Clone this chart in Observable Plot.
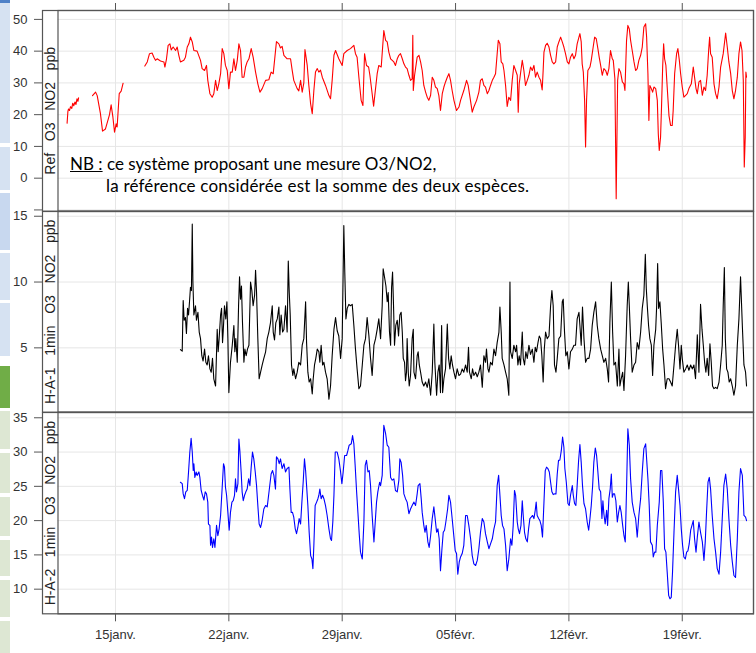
<!DOCTYPE html>
<html><head><meta charset="utf-8">
<script src="https://cdn.jsdelivr.net/npm/d3@7"></script>
<script src="https://cdn.jsdelivr.net/npm/@observablehq/plot@0.6"></script>
<style>
body{margin:0;background:#fff;}
#chart{position:relative;width:756px;height:653px;overflow:hidden;font-family:"Liberation Sans",Arial,sans-serif;}
.side{position:absolute;left:0;width:10px;}
.nb{position:absolute;font-family:Lato,sans-serif;font-size:17px;line-height:22px;color:#000;white-space:nowrap;}
</style></head><body><div id="chart">
<div class="side" style="top:0;height:3px;background:#4f81c7"></div>
<div class="side" style="top:3px;height:140px;background:#d6e2f2"></div>
<div class="side" style="top:147px;height:43px;background:#d6e2f2"></div>
<div class="side" style="top:193px;height:57px;background:#c8d8ef"></div>
<div class="side" style="top:253px;height:47px;background:#d6e2f2"></div>
<div class="side" style="top:303px;height:53px;background:#d6e2f2"></div>
<div class="side" style="top:366px;height:42px;background:#70ad47"></div>
<div class="side" style="top:411px;height:38px;background:#dde7d3"></div>
<div class="side" style="top:453px;height:40px;background:#dde7d3"></div>
<div class="side" style="top:497px;height:39px;background:#dde7d3"></div>
<div class="side" style="top:540px;height:36px;background:#dde7d3"></div>
<div class="side" style="top:580px;height:37px;background:#dde7d3"></div>
<div class="side" style="top:621px;height:32px;background:#dde7d3"></div>
</div>
<script>
// Days are counted from 1 January 2018 (day 32 = 1 February).
const weekTicks = [15, 22, 29, 36, 43, 50];
const weekLabels = ["15janv.", "22janv.", "29janv.", "05févr.", "12févr.", "19févr."];
const xStartDay = 11.449, xEndDay = 54.40;

const refTicks = [-10, 0, 10, 20, 30, 40, 50];
const ha1Ticks = [5, 10, 15];
const ha2Ticks = [10, 15, 20, 25, 30, 35];

const refLabel = "Ref   O3   NO2   ppb";
const ha1Label = "H-A-1   1min   O3   NO2   ppb";
const ha2Label = "H-A-2   1min   O3   NO2   ppb";

// Ref O3+NO2 (ppb); null = gap in the record
const refSeries = [
[12.01,17.3],[12.06,21.0],[12.10,21.8],[12.16,21.3],[12.22,22.5],[12.30,22.0],[12.36,23.6],[12.42,22.8],[12.50,24.0],[12.56,23.2],[12.62,25.0],[12.68,24.2],[12.72,25.3],[12.73,null],
[13.58,26.0],[13.77,27.1],[13.87,26.0],[14.07,20.3],[14.20,14.8],[14.38,15.5],[14.53,18.2],[14.63,20.0],[14.73,23.1],[14.84,19.2],[14.94,14.5],[15.04,17.1],[15.10,16.1],[15.23,26.6],[15.35,27.4],[15.47,29.9],[15.48,null],
[16.81,35.3],[16.96,36.6],[17.10,39.2],[17.26,39.4],[17.37,38.1],[17.47,37.1],[17.57,37.6],[17.78,36.9],[17.99,36.6],[18.05,35.0],[18.15,37.6],[18.25,41.8],[18.36,42.3],[18.44,40.4],[18.56,41.3],[18.71,40.2],[18.81,41.3],[18.91,38.7],[19.01,36.6],[19.22,37.1],[19.32,38.1],[19.43,41.3],[19.53,42.3],[19.63,44.4],[19.74,42.9],[19.84,40.2],[20.04,40.0],[20.25,37.1],[20.35,34.5],[20.50,33.9],[20.62,35.5],[20.70,30.8],[20.83,26.6],[20.97,25.5],[21.07,26.6],[21.18,30.8],[21.28,27.6],[21.38,29.7],[21.49,32.9],[21.59,40.8],[21.69,39.2],[21.79,35.5],[21.90,33.9],[22.00,28.2],[22.10,33.4],[22.21,33.4],[22.31,37.6],[22.41,33.9],[22.52,37.1],[22.62,42.3],[22.72,40.2],[22.82,31.8],[22.93,31.8],[23.03,35.0],[23.13,36.6],[23.24,37.6],[23.38,40.8],[23.50,38.1],[23.65,33.4],[23.79,29.7],[23.92,27.1],[24.06,28.2],[24.27,30.8],[24.47,31.0],[24.61,33.4],[24.74,32.9],[24.88,40.0],[24.94,43.0],[25.09,42.3],[25.19,41.0],[25.29,41.5],[25.40,38.7],[25.60,37.6],[25.81,37.6],[25.91,34.0],[26.01,30.8],[26.22,28.2],[26.32,27.5],[26.43,30.8],[26.53,27.1],[26.63,30.0],[26.70,40.5],[26.84,35.5],[26.94,29.2],[27.05,23.4],[27.15,20.3],[27.25,27.6],[27.35,33.4],[27.46,34.5],[27.56,33.4],[27.66,34.0],[27.77,31.8],[27.97,29.2],[28.18,26.0],[28.28,25.0],[28.38,30.8],[28.49,38.7],[28.59,40.2],[28.79,37.6],[29.00,35.5],[29.10,39.2],[29.31,40.2],[29.51,40.8],[29.72,41.8],[29.82,39.2],[29.92,38.1],[30.03,31.8],[30.17,24.5],[30.28,22.9],[30.38,39.2],[30.50,35.5],[30.63,35.0],[30.71,32.4],[30.85,26.6],[30.94,22.7],
[31.16,32.9],[31.26,35.5],[31.41,35.0],[31.57,46.5],[31.68,43.4],[31.78,42.9],[31.88,39.7],[31.99,37.6],[32.09,37.1],[32.19,36.6],[32.29,35.5],[32.40,37.6],[32.50,38.7],[32.60,39.2],[32.71,37.6],[32.81,36.0],[32.91,35.0],[33.01,34.5],[33.12,32.4],[33.22,30.8],[33.32,31.3],[33.36,45.0],[33.39,27.6],[33.47,32.4],[33.63,38.1],[33.74,38.7],[33.84,36.6],[33.94,33.9],[34.04,29.2],[34.15,27.1],[34.25,25.5],[34.35,24.5],[34.46,26.1],[34.56,31.8],[34.66,30.8],[34.76,28.7],[34.87,28.2],[34.97,26.0],[35.07,21.3],[35.18,26.6],[35.28,28.7],[35.38,30.3],[35.49,31.8],[35.59,32.9],[35.69,30.8],[35.79,27.6],[35.90,24.5],[36.06,21.3],[36.21,22.4],[36.31,24.5],[36.51,27.6],[36.68,30.8],[36.78,29.2],[36.89,25.5],[37.03,20.8],[37.13,22.4],[37.30,24.5],[37.44,27.1],[37.54,30.8],[37.65,31.3],[37.75,29.2],[37.85,28.7],[37.96,26.6],[38.06,27.6],[38.16,29.2],[38.27,30.8],[38.37,31.8],[38.47,32.9],[38.57,39.2],[38.64,43.4],[38.74,42.3],[38.82,36.6],[38.92,36.0],[38.99,33.9],[39.09,29.2],[39.19,22.6],[39.29,25.5],[39.40,24.5],[39.50,30.8],[39.60,35.5],[39.71,33.9],[39.81,32.4],[39.87,20.8],[39.93,29.7],[40.01,32.9],[40.12,37.1],[40.22,33.9],[40.32,29.2],[40.43,30.8],[40.53,32.4],[40.63,35.0],[40.74,33.9],[40.84,35.5],[40.94,31.8],[41.04,33.4],[41.15,31.8],[41.25,30.8],[41.35,27.8],[41.41,33.9],[41.46,39.7],[41.56,41.8],[41.66,42.5],[41.77,41.3],[41.87,38.7],[41.97,36.6],[42.07,36.0],[42.18,36.6],[42.28,41.3],[42.38,42.9],[42.49,44.4],[42.59,42.9],[42.69,41.3],[42.79,39.2],[42.90,36.6],[43.00,36.0],[43.10,38.1],[43.21,39.2],[43.31,37.6],[43.41,38.7],[43.51,42.3],[43.62,44.4],[43.68,45.5],[43.76,42.9],[43.82,36.0],[43.89,33.4],[43.97,24.5],[44.03,9.8],[44.09,24.5],[44.17,33.9],[44.30,35.0],[44.38,37.1],[44.50,41.3],[44.59,44.4],[44.69,43.9],[44.79,40.8],[44.87,38.1],[44.96,35.5],[45.06,32.4],[45.16,34.5],[45.27,33.9],[45.37,32.4],[45.47,34.5],[45.57,40.2],[45.68,37.6],[45.74,37.1],[45.84,31.3],[45.92,-6.5],[46.01,30.8],[46.09,34.5],[46.19,33.4],[46.30,30.3],[46.40,29.7],[46.46,27.6],[46.56,43.4],[46.64,48.1],[46.73,47.0],[46.81,43.4],[46.91,40.2],[47.02,36.6],[47.12,33.9],[47.22,34.5],[47.32,37.1],[47.43,38.7],[47.53,41.3],[47.63,47.6],[47.74,48.6],[47.80,44.4],[47.88,32.9],[47.94,18.2],[48.00,29.2],[48.09,28.2],[48.17,27.1],[48.25,28.7],[48.36,28.2],[48.46,24.5],[48.52,14.0],[48.58,8.7],[48.66,12.9],[48.72,22.4],[48.79,35.0],[48.85,42.3],[48.91,37.6],[48.99,35.5],[49.07,28.7],[49.18,19.7],[49.28,16.6],[49.38,16.6],[49.44,21.3],[49.53,32.9],[49.65,39.2],[49.73,40.8],[49.82,37.1],[49.90,32.9],[50.00,28.7],[50.10,25.5],[50.21,26.1],[50.31,26.6],[50.41,28.2],[50.56,29.7],[50.68,35.0],[50.76,31.8],[50.85,28.2],[50.93,26.6],[51.03,30.3],[51.13,30.8],[51.24,26.1],[51.34,28.7],[51.44,27.6],[51.54,32.4],[51.63,40.2],[51.69,44.4],[51.75,39.2],[51.85,38.1],[51.96,29.7],[52.06,26.6],[52.16,25.0],[52.27,28.7],[52.37,35.0],[52.53,39.2],[52.68,45.7],[52.78,41.3],[52.88,36.6],[52.99,32.9],[53.09,27.6],[53.19,25.0],[53.29,27.6],[53.40,31.8],[53.50,39.2],[53.60,42.9],[53.69,40.2],[53.77,30.8],[53.83,3.5],[53.89,12.9],[53.93,33.4],[53.97,31.8]
];

// H-A-1 1min O3+NO2 (ppb)
const ha1Series = [
[19.01,4.87],[19.12,4.75],[19.18,8.6],[19.24,7.1],[19.32,7.3],[19.38,6.1],[19.45,8.0],[19.51,7.5],[19.57,8.5],[19.63,9.6],[19.69,9.35],[19.74,14.4],[19.78,10.0],[19.84,7.5],[19.94,8.2],[20.00,7.1],[20.09,7.7],[20.17,6.2],[20.25,5.7],[20.33,4.4],[20.41,4.0],[20.50,4.9],[20.58,3.9],[20.66,3.7],[20.74,4.4],[20.83,3.4],[20.91,3.15],[20.99,4.2],[21.07,2.65],[21.18,2.1],[21.28,6.4],[21.34,4.7],[21.40,5.7],[21.49,7.5],[21.55,8.0],[21.61,5.4],[21.65,6.2],[21.73,8.2],[21.81,7.2],[21.88,8.5],[21.94,5.7],[22.00,1.6],[22.10,3.9],[22.21,5.2],[22.31,6.7],[22.37,4.7],[22.43,5.7],[22.52,3.9],[22.60,8.2],[22.66,10.4],[22.72,8.7],[22.78,9.7],[22.84,7.0],[22.93,3.9],[22.99,4.9],[23.07,4.4],[23.15,4.9],[23.24,5.2],[23.34,10.0],[23.42,9.35],[23.50,8.2],[23.59,9.0],[23.65,10.9],[23.71,9.2],[23.79,5.7],[23.87,2.65],[23.96,3.15],[24.06,3.7],[24.16,4.2],[24.27,4.7],[24.37,5.7],[24.47,6.2],[24.57,6.9],[24.68,8.2],[24.74,6.2],[24.82,5.6],[24.90,6.9],[24.99,7.2],[25.09,8.1],[25.15,6.0],[25.23,7.5],[25.32,6.2],[25.40,6.4],[25.50,8.2],[25.60,6.2],[25.67,11.6],[25.73,9.2],[25.79,7.5],[25.87,3.7],[25.95,2.9],[26.01,3.4],[26.12,2.65],[26.22,3.15],[26.32,3.9],[26.43,3.7],[26.53,5.2],[26.63,5.7],[26.74,8.5],[26.80,5.4],[26.88,3.15],[26.96,2.4],[27.05,2.65],[27.15,1.5],[27.21,2.65],[27.29,3.7],[27.37,4.2],[27.46,4.9],[27.56,4.7],[27.62,3.9],[27.70,5.2],[27.79,3.7],[27.87,3.9],[27.97,3.15],[28.07,2.65],[28.18,1.1],[28.28,2.1],[28.38,4.4],[28.49,6.4],[28.59,7.3],[28.69,6.3],[28.79,5.9],[28.90,4.2],[29.00,5.7],[29.10,14.3],[29.16,10.75],[29.23,7.2],[29.31,8.0],[29.41,8.3],[29.51,8.2],[29.62,8.3],[29.72,6.7],[29.82,4.9],[29.92,3.4],[30.03,1.9],[30.13,2.1],[30.24,3.7],[30.34,5.2],[30.44,5.7],[30.54,7.3],[30.65,5.9],[30.75,4.2],
[30.85,2.9],[30.96,5.2],[31.06,5.7],[31.16,6.4],[31.26,7.2],[31.37,5.7],[31.47,8.2],[31.53,11.0],[31.61,10.4],[31.70,9.7],[31.78,8.5],[31.84,9.2],[31.92,6.2],[31.99,5.2],[32.05,9.6],[32.11,10.75],[32.17,8.2],[32.23,5.2],[32.31,6.7],[32.40,7.1],[32.48,5.9],[32.56,7.5],[32.64,7.7],[32.71,6.2],[32.77,4.2],[32.85,3.9],[32.91,2.5],[32.97,3.15],[33.01,5.7],[33.08,3.15],[33.14,2.1],[33.22,2.9],[33.32,5.7],[33.39,6.4],[33.43,3.15],[33.53,2.65],[33.63,4.4],[33.69,4.7],[33.76,3.7],[33.84,3.15],[33.94,2.4],[34.04,2.1],[34.15,2.4],[34.25,2.0],[34.35,2.65],[34.46,1.4],[34.56,3.15],[34.66,6.8],[34.72,3.9],[34.83,1.4],[34.91,3.15],[34.99,3.7],[35.07,1.6],[35.14,6.7],[35.20,1.6],[35.28,2.65],[35.38,3.4],[35.49,6.8],[35.57,4.2],[35.65,3.4],[35.73,4.4],[35.81,3.7],[35.90,3.15],[36.00,2.65],[36.10,3.4],[36.21,2.9],[36.31,3.0],[36.41,3.4],[36.51,3.15],[36.62,3.7],[36.72,3.15],[36.80,5.05],[36.86,3.15],[36.97,2.65],[37.05,3.4],[37.13,2.9],[37.24,3.15],[37.34,2.8],[37.44,3.15],[37.54,3.7],[37.65,2.0],[37.75,4.4],[37.85,3.9],[37.91,4.9],[38.00,3.4],[38.06,3.15],[38.16,3.9],[38.27,3.7],[38.37,4.9],[38.47,4.4],[38.57,5.4],[38.68,6.2],[38.74,8.1],[38.82,6.2],[38.88,4.2],[38.99,3.7],[39.09,3.15],[39.19,2.65],[39.29,1.4],[39.36,10.0],[39.40,4.7],[39.50,4.2],[39.60,5.2],[39.71,4.7],[39.77,5.2],[39.85,3.7],[39.93,4.4],[40.01,3.7],[40.12,6.2],[40.18,4.2],[40.26,3.7],[40.34,4.7],[40.43,4.2],[40.53,5.2],[40.63,4.5],[40.74,4.9],[40.84,3.9],[40.92,5.05],[41.00,4.7],[41.09,5.4],[41.17,5.9],[41.25,5.7],[41.33,4.4],[41.41,2.4],[41.48,4.9],[41.56,6.2],[41.66,5.7],[41.77,5.9],[41.87,8.2],[41.95,9.35],[42.03,8.2],[42.11,3.7],[42.20,3.15],[42.28,4.2],[42.38,5.7],[42.49,5.9],[42.59,8.5],[42.65,8.7],[42.73,6.2],[42.81,4.4],[42.90,4.7],[43.00,3.4],[43.10,4.7],[43.21,4.9],[43.31,5.2],[43.41,5.2],[43.51,7.2],[43.62,7.7],[43.68,6.7],[43.76,5.2],[43.84,8.1],[43.93,5.7],[44.03,3.9],[44.13,4.2],[44.24,4.2],[44.34,4.9],[44.44,6.7],[44.54,7.7],[44.65,8.5],[44.75,6.7],[44.85,5.7],[44.96,4.9],[45.06,4.4],[45.16,3.9],[45.27,4.2],[45.37,3.4],[45.45,2.4],[45.53,6.9],[45.62,10.0],[45.70,6.2],[45.78,3.7],[45.88,3.9],[45.99,2.1],[46.09,4.9],[46.15,2.1],[46.23,2.65],[46.32,3.15],[46.40,1.76],[46.50,4.4],[46.60,8.2],[46.67,10.0],[46.73,8.2],[46.81,5.7],[46.91,3.15],[47.02,3.7],[47.12,3.9],[47.22,5.4],[47.32,4.9],[47.43,6.2],[47.53,8.0],[47.63,9.0],[47.72,12.1],[47.78,9.5],[47.84,8.2],[47.92,6.7],[48.00,5.7],[48.09,5.2],[48.17,2.9],[48.25,5.2],[48.36,6.4],[48.42,8.2],[48.48,11.4],[48.54,8.0],[48.62,8.5],[48.70,6.9],[48.79,4.9],[48.87,3.7],[48.97,1.9],[49.07,2.65],[49.18,2.65],[49.28,2.4],[49.38,2.1],[49.49,3.7],[49.59,5.2],[49.69,6.4],[49.77,5.2],[49.86,3.4],[49.94,5.2],[50.00,4.2],[50.10,3.15],[50.21,3.4],[50.31,3.7],[50.41,3.3],[50.52,3.7],[50.62,3.4],[50.72,3.7],[50.82,2.65],[50.93,6.0],[51.03,3.15],[51.13,8.3],[51.22,6.4],[51.30,5.2],[51.38,3.9],[51.46,3.15],[51.54,4.2],[51.63,2.9],[51.71,5.3],[51.79,3.9],[51.87,2.1],[51.96,1.9],[52.06,2.0],[52.16,1.9],[52.27,2.4],[52.37,3.7],[52.47,5.2],[52.53,8.2],[52.60,11.1],[52.66,5.7],[52.74,3.4],[52.82,3.15],[52.90,2.4],[52.99,2.65],[53.09,2.1],[53.19,1.4],[53.29,2.1],[53.40,5.2],[53.50,7.2],[53.60,10.4],[53.71,6.7],[53.81,3.7],[53.91,3.15],[53.97,2.1]
];

// H-A-2 1min O3+NO2 (ppb)
const ha2Series = [
[19.01,25.6],[19.12,25.4],[19.18,23.9],[19.26,23.2],[19.34,24.2],[19.43,24.4],[19.51,27.1],[19.59,30.0],[19.67,32.0],[19.74,30.0],[19.80,27.3],[19.84,28.3],[19.90,26.3],[19.98,27.1],[20.04,26.6],[20.15,27.1],[20.21,26.3],[20.29,24.4],[20.37,23.7],[20.46,23.0],[20.54,24.2],[20.62,23.9],[20.70,22.7],[20.74,19.5],[20.83,19.3],[20.87,16.4],[20.93,17.6],[20.99,16.1],[21.07,17.35],[21.14,16.1],[21.24,19.3],[21.32,17.8],[21.40,18.8],[21.49,20.75],[21.59,24.9],[21.67,28.3],[21.73,27.8],[21.79,24.9],[21.86,23.7],[21.94,21.2],[22.02,18.6],[22.10,21.2],[22.19,22.7],[22.27,22.9],[22.35,23.7],[22.41,26.1],[22.47,24.2],[22.56,25.4],[22.62,31.9],[22.68,30.2],[22.76,27.1],[22.82,24.2],[22.89,22.9],[22.97,23.7],[23.05,24.2],[23.13,24.6],[23.22,26.1],[23.30,25.1],[23.38,27.8],[23.46,30.0],[23.54,29.0],[23.63,27.1],[23.71,25.1],[23.79,22.2],[23.87,19.5],[23.96,19.0],[24.04,19.8],[24.16,21.7],[24.27,22.2],[24.37,22.0],[24.49,24.4],[24.61,26.8],[24.70,27.3],[24.78,26.6],[24.88,24.6],[24.94,29.3],[25.03,29.0],[25.11,28.3],[25.19,29.0],[25.29,27.6],[25.40,28.3],[25.50,27.1],[25.60,27.6],[25.71,27.8],[25.77,24.6],[25.85,21.2],[25.93,21.2],[26.01,20.5],[26.10,18.8],[26.18,18.1],[26.26,19.0],[26.34,20.3],[26.43,19.5],[26.51,22.7],[26.59,25.6],[26.67,29.0],[26.74,27.3],[26.80,25.1],[26.88,22.2],[26.96,18.3],[27.05,14.9],[27.13,14.4],[27.19,13.0],[27.25,16.4],[27.33,22.2],[27.42,22.7],[27.50,23.2],[27.56,23.7],[27.62,24.6],[27.70,23.2],[27.79,23.7],[27.87,23.2],[27.97,22.2],[28.07,20.75],[28.18,18.8],[28.28,17.35],[28.34,17.1],[28.42,19.8],[28.49,23.7],[28.57,30.0],[28.69,30.0],[28.79,29.0],[28.90,27.1],[28.98,25.4],[29.06,27.1],[29.15,29.5],[29.27,29.5],[29.35,30.2],[29.43,31.0],[29.56,31.2],[29.64,32.4],[29.72,31.2],[29.80,28.05],[29.89,24.2],[29.97,21.2],[30.05,18.1],[30.13,15.4],[30.24,14.4],[30.34,19.8],[30.42,28.05],[30.50,28.8],[30.59,27.1],[30.67,27.3],[30.75,25.1],[30.85,20.75],[30.96,16.9],
[31.12,22.7],[31.20,24.2],[31.31,25.6],[31.37,25.1],[31.47,26.6],[31.57,33.9],[31.68,32.7],[31.78,31.0],[31.88,30.7],[31.99,26.3],[32.09,25.9],[32.19,26.1],[32.29,24.4],[32.40,24.2],[32.50,25.9],[32.56,29.0],[32.64,28.5],[32.73,26.6],[32.81,23.9],[32.91,23.2],[33.01,22.7],[33.12,21.0],[33.22,21.7],[33.32,22.2],[33.43,22.7],[33.53,22.2],[33.63,23.9],[33.69,25.1],[33.80,25.4],[33.88,23.2],[33.94,21.2],[34.04,19.3],[34.11,18.3],[34.19,19.3],[34.29,16.9],[34.37,16.1],[34.46,17.8],[34.56,20.3],[34.66,22.0],[34.74,20.3],[34.83,18.3],[34.91,18.8],[34.99,17.35],[35.07,12.7],[35.16,15.9],[35.24,18.3],[35.32,18.6],[35.40,19.8],[35.51,21.7],[35.59,23.7],[35.69,22.7],[35.79,20.3],[35.90,17.6],[35.98,15.6],[36.06,15.2],[36.14,12.2],[36.23,14.0],[36.31,14.7],[36.41,15.2],[36.51,16.4],[36.62,20.75],[36.72,20.75],[36.82,19.3],[36.93,17.35],[37.03,14.9],[37.13,13.7],[37.24,13.45],[37.34,14.2],[37.44,15.9],[37.54,18.3],[37.65,20.3],[37.75,19.8],[37.85,18.1],[37.96,16.9],[38.06,15.9],[38.16,16.6],[38.27,17.35],[38.37,18.8],[38.47,19.8],[38.57,25.1],[38.66,26.6],[38.74,23.7],[38.82,20.75],[38.90,19.3],[38.99,18.8],[39.09,16.4],[39.19,12.7],[39.29,14.4],[39.40,17.35],[39.48,16.4],[39.56,19.3],[39.64,24.4],[39.71,23.7],[39.81,19.8],[39.87,18.8],[39.95,18.1],[40.04,19.3],[40.12,22.9],[40.18,20.75],[40.26,18.3],[40.34,17.35],[40.43,16.9],[40.51,18.8],[40.59,20.3],[40.67,20.5],[40.76,20.75],[40.84,20.3],[40.92,21.5],[40.98,22.7],[41.04,20.75],[41.13,20.3],[41.21,20.0],[41.29,19.3],[41.37,17.6],[41.46,22.7],[41.54,27.3],[41.62,27.8],[41.70,27.6],[41.79,27.1],[41.87,25.6],[41.95,24.2],[42.03,23.8],[42.11,23.9],[42.20,23.9],[42.28,26.8],[42.36,28.8],[42.44,28.8],[42.53,30.2],[42.61,32.2],[42.69,30.7],[42.75,27.6],[42.84,25.6],[42.94,22.5],[43.02,22.2],[43.10,23.7],[43.21,25.1],[43.27,23.7],[43.35,22.5],[43.43,22.2],[43.51,25.1],[43.60,28.8],[43.68,31.1],[43.76,28.5],[43.84,25.1],[43.93,22.5],[44.03,21.7],[44.13,19.8],[44.22,18.6],[44.30,20.3],[44.38,22.2],[44.46,24.9],[44.54,28.5],[44.63,30.6],[44.71,29.5],[44.79,27.1],[44.87,24.6],[44.96,24.2],[45.04,20.3],[45.10,22.9],[45.16,21.0],[45.24,19.5],[45.33,21.5],[45.39,19.3],[45.47,23.2],[45.55,24.6],[45.62,26.8],[45.68,23.4],[45.74,23.9],[45.82,23.9],[45.90,22.9],[45.99,19.8],[46.07,21.2],[46.15,22.2],[46.23,21.2],[46.32,19.3],[46.40,17.8],[46.48,16.9],[46.56,24.6],[46.64,33.4],[46.73,31.0],[46.81,26.1],[46.91,22.7],[47.02,21.2],[47.12,20.3],[47.22,17.6],[47.32,20.75],[47.43,23.2],[47.53,27.1],[47.63,30.5],[47.74,31.2],[47.80,29.0],[47.88,26.1],[47.96,22.2],[48.04,16.9],[48.15,16.4],[48.21,14.7],[48.29,15.4],[48.37,15.4],[48.46,19.3],[48.58,22.7],[48.66,27.3],[48.74,27.3],[48.83,22.7],[48.91,15.9],[48.99,15.4],[49.07,12.5],[49.16,9.1],[49.24,8.6],[49.32,8.8],[49.40,12.5],[49.49,18.3],[49.59,24.2],[49.69,26.6],[49.77,24.6],[49.86,22.2],[49.94,18.8],[50.02,16.4],[50.10,14.7],[50.19,14.4],[50.27,15.4],[50.35,15.6],[50.43,16.6],[50.52,18.6],[50.60,19.3],[50.68,20.0],[50.76,17.35],[50.85,15.4],[50.93,17.6],[51.03,19.8],[51.13,18.3],[51.24,16.9],[51.34,14.2],[51.42,16.9],[51.50,21.2],[51.59,25.6],[51.67,26.3],[51.75,24.6],[51.85,20.75],[51.96,17.35],[52.06,15.4],[52.16,13.0],[52.27,12.2],[52.37,15.4],[52.47,20.3],[52.57,25.1],[52.68,26.8],[52.78,24.6],[52.88,20.3],[52.99,16.4],[53.09,14.0],[53.19,12.0],[53.29,11.7],[53.40,17.35],[53.50,24.2],[53.60,27.6],[53.71,26.6],[53.81,20.75],[53.91,20.5],[53.97,20.0]
];

const day0 = Date.UTC(2018, 0, 1);
const toDate = d => new Date(day0 + (d - 1) * 864e5);
const tickDates = weekTicks.map(toDate);
const labelOf = new Map(weekTicks.map((d, i) => [+toDate(d), weekLabels[i]]));
const xDomain = [toDate(xStartDay), toDate(xEndDay)];
const chart = document.getElementById("chart");
const frameColor = "#555";
const textColor = "#333";

function panel({series, color, yDomain, yTicks, label, top, height, marginTop, marginBottom, topTicks, bottomAxis}) {
  const rows = series.map(([d, v]) => ({date: toDate(d), value: v}));
  const marks = [
    Plot.gridX(tickDates, {stroke: "#e6e6e6", strokeOpacity: 1}),
    Plot.gridY(yTicks, {stroke: "#e6e6e6", strokeOpacity: 1}),
    Plot.line(rows, {x: "date", y: "value", stroke: color, strokeWidth: 1.1}),
    Plot.frame({stroke: frameColor, strokeWidth: 1.2}),
    Plot.frame({stroke: frameColor, strokeWidth: 1.2, insetLeft: -15.5}),
    Plot.axisY(yTicks, {anchor: "left", tickSize: 8, tickPadding: 7, dx: -15.5, fontSize: 13, color: textColor, stroke: frameColor, label: null,
      tickFormat: d => d < -5 ? "" : String(d)}),
    Plot.text([label], {frameAnchor: "left", rotate: -90, dx: -7.75, fontSize: 14, fill: "#222", textAnchor: "middle", lineAnchor: "middle"})
  ];
  if (topTicks) marks.push(Plot.axisX(tickDates, {anchor: "top", tickSize: 8, stroke: frameColor, tickFormat: () => "", label: null}));
  if (bottomAxis) marks.push(Plot.axisX(tickDates, {anchor: "bottom", tickSize: 8, tickPadding: 8, fontSize: 13, color: textColor, stroke: frameColor,
    tickFormat: d => labelOf.get(+d), label: null}));
  const svg = Plot.plot({
    width: 756, height,
    marginLeft: 57.5, marginRight: 3, marginTop, marginBottom,
    style: {position: "absolute", left: "0px", top: top + "px", background: "transparent", overflow: "visible", fontFamily: "'Liberation Sans', Arial, sans-serif"},
    x: {type: "utc", domain: xDomain, range: [57.5, 753], axis: null},
    y: {domain: yDomain, axis: null},
    marks
  });
  chart.appendChild(svg);
}

panel({series: refSeries, color: "#ff0000", yDomain: [-10.4, 52.8], yTicks: refTicks, label: refLabel,
  top: 0, height: 215, marginTop: 10, marginBottom: 4.3, topTicks: true});
panel({series: ha1Series, color: "#000000", yDomain: [0.11, 15.36], yTicks: ha1Ticks, label: ha1Label,
  top: 200, height: 220, marginTop: 11, marginBottom: 8.3});
panel({series: ha2Series, color: "#0000ff", yDomain: [6.41, 35.77], yTicks: ha2Ticks, label: ha2Label,
  top: 400, height: 253, marginTop: 12, marginBottom: 39.7, bottomAxis: true});

const nb1 = document.createElement("div");
nb1.className = "nb";
nb1.style.left = "70px"; nb1.style.top = "153px";
nb1.innerHTML = "<u>NB :</u> ce système proposant une mesure O3/NO2,";
const nb2 = document.createElement("div");
nb2.className = "nb";
nb2.style.left = "106px"; nb2.style.top = "175px"; nb2.style.letterSpacing = "0.19px";
nb2.textContent = "la référence considérée est la somme des deux espèces.";
chart.appendChild(nb1); chart.appendChild(nb2);
</script></body></html>
